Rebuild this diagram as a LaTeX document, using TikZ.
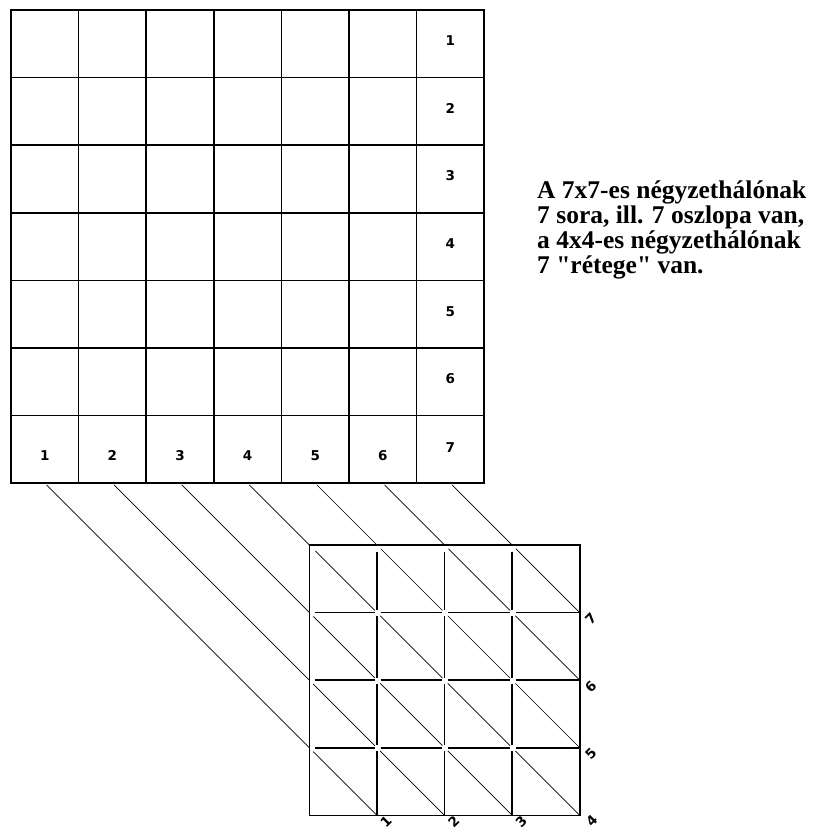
\documentclass[tikz,border=0pt]{standalone}
\usepackage{fontspec}
\setmainfont{Liberation Serif}
\newfontfamily\numfont{DejaVu Sans}
\usetikzlibrary{calc}

\begin{document}
\begin{tikzpicture}[x=1pt, y=-1pt,
  every node/.style={inner sep=0pt},
  gridline/.style={line width=1.6pt, line cap=rect},
  inner/.style={line width=1.5pt},
  diag/.style={line width=0.7pt},
  num/.style={font=\numfont\bfseries\fontsize{13.5}{13.5}\selectfont},
  rnum/.style={num, rotate=45},
  note/.style={align=left, anchor=north west,
               font=\bfseries\fontsize{25.5}{25}\selectfont},
]
\useasboundingbox (0,0) rectangle (827,830);
\def\cs{67.6}

%% Upper 7x7 grid
\foreach \k in {0,...,7} {
  \draw[gridline] ({11+\k*\cs},10) -- ({11+\k*\cs},{10+7*\cs});
  \draw[gridline] (11,{10+\k*\cs}) -- ({11+7*\cs},{10+\k*\cs});
}

%% Row and column numbers
\foreach \k in {1,...,6} {
  \node[num] (row-\k) at ({11+6.5*\cs},{10+(\k-0.5)*\cs-3}) {\k};
  \node[num] (col-\k) at ({11+(\k-0.5)*\cs},{10+6.5*\cs+6}) {\k};
}
\node[num] (row-7) at ({11+6.5*\cs},{10+6.5*\cs-2}) {7};

%% Lower 4x4 grid: lattice points
\foreach \i in {0,...,4}
  \foreach \j in {0,...,4}
    \coordinate (L-\i-\j) at ({309.4+\i*\cs},{545+\j*\cs});

\draw[gridline] (L-0-0) rectangle (L-4-4);

%% Interior lines, with small gaps where they meet
\foreach \a in {1,2,3}
  \foreach \b in {0,...,3} {
    \pgfmathtruncatemacro\n{\b+1}
    \pgfmathsetmacro\sa{\b==0 ? 6.5 : 3.5}
    \pgfmathsetmacro\sb{\n==4 ? 0 : 2.5}
    \draw[inner, shorten <=\sa pt, shorten >=\sb pt] (L-\a-\b) -- (L-\a-\n);
    \pgfmathsetmacro\sa{\b==0 ? 5.5 : 3.5}
    \draw[inner, shorten <=\sa pt, shorten >=\sb pt] (L-\b-\a) -- (L-\n-\a);
  }

%% Cell diagonals
\foreach \i in {0,...,3}
  \foreach \j in {0,...,3} {
    \pgfmathtruncatemacro\ii{\i+1}
    \pgfmathtruncatemacro\jj{\j+1}
    \pgfmathsetmacro\sa{(\i==0 && \j==0) ? 8.5 : ((\i==0 || \j==0) ? 5.5 : 4.5)}
    \pgfmathsetmacro\sb{(\ii==4 || \jj==4) ? 0 : 3}
    \draw[diag, shorten <=\sa pt, shorten >=\sb pt] (L-\i-\j) -- (L-\ii-\jj);
  }

%% Lines from the bottom row down to the layers
\foreach \k in {1,...,7}
  \coordinate (b-\k) at ({11+(\k-0.5)*\cs},{10+7*\cs});
\foreach \k/\t in {1/0-3, 2/0-2, 3/0-1, 4/0-0, 5/1-0, 6/2-0, 7/3-0}
  \draw[diag, shorten <=2.5pt] (b-\k) -- (L-\t);

%% Layer numbers
\node[rnum] (lay-7) at ($(L-4-1)+(11,6)$) {7};
\node[rnum] (lay-6) at ($(L-4-2)+(11,6)$) {6};
\node[rnum] (lay-5) at ($(L-4-3)+(11,6)$) {5};
\node[rnum] (lay-4) at ($(L-4-4)+(12,5)$) {4};
\node[rnum] (lay-3) at ($(L-3-4)+(9,6)$) {3};
\node[rnum] (lay-2) at ($(L-2-4)+(9,6)$) {2};
\node[rnum] (lay-1) at ($(L-1-4)+(9,6)$) {1};

%% Note
\node[note] (note) at (537,181)
  {A 7x7-es négyzethálónak\\7 sora, ill. 7 oszlopa van,\\a 4x4-es négyzethálónak\\7 \textquotedbl rétege\textquotedbl{} van.};

\end{tikzpicture}
\end{document}
